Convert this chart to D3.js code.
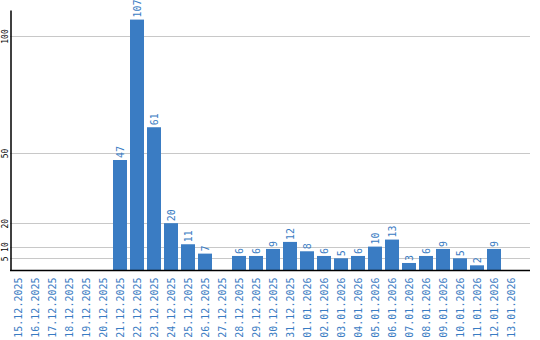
<!DOCTYPE html>
<html>
<head>
<meta charset="utf-8">
<script src="https://cdn.jsdelivr.net/npm/d3@7"></script>
<style>
  body { margin: 0; background: #fff; }
  text { font-family: "DejaVu Sans Mono", monospace; }
</style>
</head>
<body>
<svg id="chart" width="540" height="340"></svg>
<script>
const days = [
  "15.12.2025", "16.12.2025", "17.12.2025", "18.12.2025", "19.12.2025", "20.12.2025",
  "21.12.2025", "22.12.2025", "23.12.2025", "24.12.2025", "25.12.2025", "26.12.2025",
  "27.12.2025", "28.12.2025", "29.12.2025", "30.12.2025", "31.12.2025", "01.01.2026",
  "02.01.2026", "03.01.2026", "04.01.2026", "05.01.2026", "06.01.2026", "07.01.2026",
  "08.01.2026", "09.01.2026", "10.01.2026", "11.01.2026", "12.01.2026", "13.01.2026"
];
const counts = [0, 0, 0, 0, 0, 0, 47, 107, 61, 20, 11, 7, 0, 6, 6, 9, 12, 8, 6, 5, 6, 10, 13, 3, 6, 9, 5, 2, 9, 0];
const yTicks = [5, 10, 20, 50, 100];

const blue = "#3a7cc3";
const svg = d3.select("#chart");

const x = d3.scaleBand()
    .domain(days)
    .range([9.5, 519.5])
    .paddingInner(3 / 17)
    .paddingOuter(1.5 / 17);

const y = d3.scaleLinear()
    .domain([0, 111.1])
    .range([270, 10]);

// grid
svg.append("g")
  .selectAll("line")
  .data(yTicks).enter()
  .append("line")
    .attr("x1", 10).attr("x2", 530)
    .attr("y1", d => Math.round(y(d)) + 0.5)
    .attr("y2", d => Math.round(y(d)) + 0.5)
    .attr("stroke", "#c8c8c8");

// bars
const data = days.map((d, i) => ({day: d, v: counts[i]}));
svg.append("g")
  .selectAll("rect")
  .data(data.filter(d => d.v > 0)).enter()
  .append("rect")
    .attr("x", d => x(d.day))
    .attr("y", d => y(d.v))
    .attr("width", x.bandwidth())
    .attr("height", d => y(0) - y(d.v))
    .attr("fill", blue);

// value labels
svg.append("g")
  .selectAll("text")
  .data(data.filter(d => d.v > 0)).enter()
  .append("text")
    .attr("transform", d => `translate(${x(d.day) + x.bandwidth() / 2},${y(d.v) - 2}) rotate(-90)`)
    .attr("dy", "0.35em")
    .attr("fill", blue)
    .attr("font-size", 10)
    .text(d => d.v);

// y axis
const yAxis = svg.append("g")
    .attr("transform", "translate(10.5,0)")
    .call(d3.axisLeft(y).tickValues(yTicks).tickSize(0).tickSizeOuter(0));
yAxis.select(".domain").attr("stroke", "#000").attr("stroke-width", 1.5);
yAxis.selectAll("text")
    .attr("transform", "rotate(-90)")
    .attr("x", 0).attr("y", -3)
    .attr("dy", 0)
    .attr("text-anchor", "middle")
    .attr("fill", "#000")
    .attr("font-size", 8)
    .attr("font-family", "DejaVu Sans Mono, monospace");

// x axis
const xAxis = svg.append("g")
    .attr("transform", "translate(0,270.5)")
    .call(d3.axisBottom(x).tickSize(0).tickSizeOuter(0));
xAxis.select(".domain").attr("d", "M10,0H530").attr("stroke", "#000").attr("stroke-width", 1.5);
xAxis.selectAll("text")
    .attr("transform", "rotate(-90)")
    .attr("x", -7).attr("y", 0)
    .attr("dy", "0.35em")
    .attr("text-anchor", "end")
    .attr("fill", blue)
    .attr("font-size", 10)
    .attr("font-family", "DejaVu Sans Mono, monospace");
</script>
</body>
</html>
